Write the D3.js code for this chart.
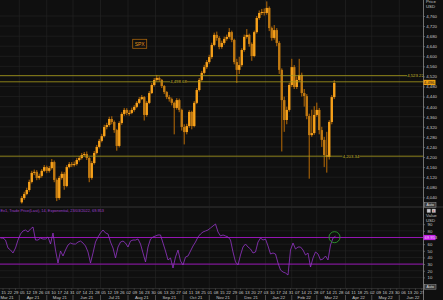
<!DOCTYPE html>
<html>
<head>
<meta charset="utf-8">
<style>
    body { margin: 0; background: #0f0f0f; }
    svg { display: block; font-family: 'Liberation Sans', Arial, sans-serif; }
    .axis text { fill: #c8c8c8; font-size: 4.3px; }
    .axis .domain { stroke: #8a8a8a; stroke-width: 0.8; }
    .axis .tick line { stroke: #8a8a8a; stroke-width: 0.6; }
</style>
</head>
<body>
<svg width="443" height="300"></svg>
<script src="https://d3js.org/d3.v7.min.js"></script>
<script>

// ---- data ----
// SPX bars, one every 2 weekdays from 5 Apr 2021
const firstBar = "2021-04-05";
const barStep = 2;
const spxClose = [4037, 4053, 4069, 4101, 4137, 4141, 4117, 4125, 4145, 4160,
    4145, 4156, 4180, 4109, 4037, 4117, 4133, 4085, 4160, 4172,
    4168, 4172, 4188, 4196, 4208, 4212, 4196, 4117, 4176, 4216,
    4240, 4264, 4283, 4319, 4327, 4351, 4339, 4307, 4244, 4335,
    4371, 4387, 4375, 4375, 4387, 4399, 4415, 4430, 4438, 4367,
    4415, 4454, 4486, 4506, 4514, 4506, 4482, 4458, 4438, 4430,
    4415, 4395, 4426, 4387, 4319, 4299, 4323, 4379, 4323, 4415,
    4466, 4506, 4534, 4557, 4577, 4597, 4645, 4685, 4673, 4637,
    4653, 4669, 4677, 4696, 4665, 4577, 4546, 4565, 4625, 4677,
    4685, 4649, 4601, 4696, 4752, 4772, 4776, 4772, 4792, 4712,
    4673, 4704, 4653, 4546, 4426, 4347, 4387, 4486, 4557, 4478,
    4506, 4526, 4454, 4442, 4363, 4287, 4295, 4367, 4387, 4307,
    4268, 4208, 4200, 4339, 4438, 4494];
const spxHigh = [4045, 4062, 4078, 4110, 4145, 4150, 4148, 4134, 4152, 4168,
    4166, 4164, 4192, 4186, 4115, 4125, 4142, 4140, 4168, 4180,
    4180, 4182, 4196, 4204, 4216, 4220, 4222, 4200, 4184, 4224,
    4248, 4272, 4292, 4328, 4336, 4360, 4362, 4345, 4312, 4342,
    4378, 4395, 4394, 4386, 4396, 4406, 4422, 4438, 4446, 4442,
    4422, 4462, 4494, 4514, 4526, 4520, 4510, 4486, 4462, 4446,
    4436, 4420, 4434, 4432, 4392, 4330, 4332, 4386, 4384, 4422,
    4474, 4514, 4542, 4566, 4585, 4606, 4654, 4694, 4698, 4680,
    4662, 4678, 4686, 4712, 4702, 4670, 4590, 4598, 4632, 4686,
    4708, 4690, 4655, 4702, 4760, 4782, 4788, 4790, 4818, 4798,
    4718, 4724, 4712, 4660, 4552, 4440, 4400, 4495, 4590, 4565,
    4520, 4590, 4535, 4470, 4450, 4372, 4388, 4402, 4416, 4395,
    4320, 4280, 4300, 4346, 4446, 4505];
const spxLow = [4015, 4030, 4048, 4062, 4095, 4128, 4108, 4110, 4118, 4140,
    4136, 4138, 4150, 4100, 4025, 4030, 4110, 4070, 4080, 4155,
    4160, 4162, 4166, 4182, 4190, 4202, 4188, 4100, 4110, 4170,
    4210, 4234, 4258, 4278, 4310, 4320, 4330, 4296, 4225, 4238,
    4328, 4364, 4366, 4364, 4370, 4380, 4394, 4410, 4426, 4345,
    4360, 4410, 4450, 4480, 4500, 4498, 4474, 4450, 4430, 4420,
    4405, 4290, 4388, 4378, 4305, 4250, 4290, 4316, 4310, 4318,
    4410, 4460, 4500, 4528, 4550, 4570, 4590, 4640, 4662, 4628,
    4630, 4646, 4662, 4670, 4656, 4568, 4494, 4530, 4558, 4618,
    4670, 4638, 4582, 4596, 4690, 4745, 4764, 4762, 4765, 4700,
    4662, 4666, 4640, 4530, 4222, 4300, 4330, 4380, 4478, 4470,
    4470, 4500, 4440, 4400, 4350, 4114, 4280, 4288, 4360, 4290,
    4240, 4160, 4138, 4190, 4330, 4430];
const spxFirstOpen = 4020;

// RSI(14), one value every 2 weekdays from 11 Mar 2021
const firstRsi = "2021-03-11";
const rsi = [69.2, 69.2, 66.2, 54.2, 51.2, 46.7, 54.2, 66.2, 75.3, 79.8,
    81.3, 78.3, 82.8, 85.8, 66.2, 66.2, 69.2, 67.7, 67.7, 70.8,
    60.2, 76.8, 51.2, 31.6, 49.7, 42.2, 51.2, 58.7, 61.7, 60.2,
    60.2, 63.2, 64.7, 61.7, 57.2, 48.2, 31.6, 46.7, 63.2, 70.8,
    76.8, 81.3, 76.8, 75.3, 63.2, 54.2, 39.2, 55.7, 63.2, 64.7,
    61.7, 55.7, 64.7, 66.2, 66.2, 67.7, 60.2, 46.7, 33.2, 55.7,
    67.7, 70.8, 72.3, 73.8, 73.8, 61.7, 49.7, 36.2, 39.2, 24.1,
    40.7, 51.2, 34.7, 28.6, 40.7, 42.2, 49.7, 57.2, 63.2, 70.8,
    75.3, 78.3, 79.8, 81.3, 84.3, 87.3, 90.3, 78.3, 72.3, 73.8,
    72.3, 70.8, 66.2, 48.2, 33.2, 28.6, 43.7, 55.7, 60.2, 55.7,
    52.7, 46.7, 48.2, 63.2, 69.2, 66.2, 67.7, 57.2, 45.2, 46.7,
    45.2, 31.6, 21.1, 18.1, 16.6, 13.6, 51.2, 61.7, 52.7, 55.7,
    55.7, 51.2, 43.7, 46.7, 25.6, 39.2, 48.2, 45.2, 36.2, 37.7,
    42.2, 36.2, 58.7, 69.2, 72.0];

// levels and labels
const levelValues = [4523.22, 4498.68, 4203.34];
const levelLabels = ["4,523.22", "4,498.68", "4,203.34"];
const lastPrice = 4496.15;
const lastPriceLabel = "4,496.15";
const rsiLevels = [70, 30];
const lastRsiLabel = "69.953";
const rsiLegend = "Ex1, Trade Price(Last),  14, Exponential,  23/03/2022, 69.953";

const priceTicks = [4040, 4080, 4120, 4160, 4200, 4240, 4280, 4320, 4360, 4400,
    4440, 4480, 4520, 4560, 4600, 4640, 4680, 4720, 4760];
const rsiTicks = [10, 20, 30, 40, 50, 60, 80, 90];
const months = ["2021-03", "2021-04", "2021-05", "2021-06", "2021-07", "2021-08",
    "2021-09", "2021-10", "2021-11", "2021-12", "2022-01", "2022-02", "2022-03",
    "2022-04", "2022-05", "2022-06", "2022-07"];
const monthLabels = ["Mar 21", "Apr 21", "May 21", "Jun 21", "Jul 21", "Aug 21",
    "Sep 21", "Oct 21", "Nov 21", "Dec 21", "Jan 22", "Feb 22", "Mar 22",
    "Apr 22", "May 22", "Jun 22"];

// ---- helpers ----
// x axis counts weekdays (no weekends), origin Mon 15 Mar 2021
const origin = Date.UTC(2021, 2, 15);
function wdIndex(str) {
    let p = str.split("-").map(Number);
    let t = Date.UTC(p[0], p[1] - 1, p[2] || 1);
    let days = Math.round((t - origin) / 864e5);
    let weeks = Math.floor(days / 7);
    let rem = days - weeks * 7;
    return weeks * 5 + Math.min(rem, 5);
}

const axisX = 423.5;
const x = d3.scaleLinear().domain([0, 336]).range([3, 423]);
const y = d3.scaleLinear().domain([4040, 4760]).range([197.3, 16]);
const yr = d3.scaleLinear().domain([30, 70]).range([264.1, 237.5]);

const svg = d3.select("svg");
svg.append("rect").attr("width", 443).attr("height", 300).attr("fill", "#0f0f0f");

let defs = svg.append("defs");
defs.append("clipPath").attr("id", "clipTop")
    .append("rect").attr("x", 0).attr("y", 0).attr("width", axisX).attr("height", 206.5);
defs.append("clipPath").attr("id", "clipBot")
    .append("rect").attr("x", 0).attr("y", 207.5).attr("width", axisX).attr("height", 80.5);
defs.append("clipPath").attr("id", "clipAxis")
    .append("rect").attr("x", 0).attr("y", 288).attr("width", axisX).attr("height", 12);

// month starts in weekday units
const monthIdx = months.map(wdIndex);

// ---- grid ----
let grid = svg.append("g").attr("stroke", "#252525").attr("stroke-width", 0.6);
monthIdx.forEach(function (m) {
    grid.append("line").attr("x1", x(m)).attr("x2", x(m))
        .attr("y1", 0).attr("y2", 206.5).attr("clip-path", "url(#clipTop)");
    grid.append("line").attr("x1", x(m)).attr("x2", x(m))
        .attr("y1", 207.5).attr("y2", 288).attr("clip-path", "url(#clipBot)");
});
priceTicks.forEach(function (t) {
    grid.append("line").attr("x1", 0).attr("x2", axisX).attr("y1", y(t)).attr("y2", y(t));
});
rsiTicks.concat([70]).forEach(function (t) {
    grid.append("line").attr("x1", 0).attr("x2", axisX).attr("y1", yr(t)).attr("y2", yr(t));
});

// ---- price panel ----
let priceG = svg.append("g").attr("clip-path", "url(#clipTop)");
let b0 = wdIndex(firstBar);
let bars = spxClose.map(function (c, i) {
    return {
        idx: b0 + barStep * i,
        open: i === 0 ? spxFirstOpen : spxClose[i - 1],
        close: c, high: spxHigh[i], low: spxLow[i]
    };
});

priceG.selectAll(".wick").data(bars).join("rect")
    .attr("class", "wick")
    .attr("x", d => x(d.idx) - 0.6)
    .attr("width", 1.2)
    .attr("y", d => y(d.high))
    .attr("height", d => y(d.low) - y(d.high))
    .attr("fill", "#9c5c08");

priceG.selectAll(".body").data(bars).join("rect")
    .attr("class", "body")
    .attr("x", d => x(d.idx) - 1.2)
    .attr("width", 2.4)
    .attr("y", d => y(Math.max(d.open, d.close)))
    .attr("height", d => Math.max(1, Math.abs(y(d.open) - y(d.close))))
    .attr("fill", d => d.close >= d.open ? "#f7a11a" : "#c27a12");

// level lines
levelValues.forEach(function (v, i) {
    priceG.append("line").attr("x1", 0).attr("x2", axisX)
        .attr("y1", y(v)).attr("y2", y(v))
        .attr("stroke", "#a89c1c").attr("stroke-width", 0.8);
});
let levelLabelX = [415.5, 178.5, 351];
levelLabels.forEach(function (t, i) {
    let g = priceG.append("g").attr("transform", `translate(${levelLabelX[i]},${y(levelValues[i])})`);
    g.append("rect").attr("x", -8.5).attr("y", -2.5).attr("width", 17).attr("height", 5)
        .attr("fill", "#0f0f0f");
    g.append("text").text(t).attr("text-anchor", "middle").attr("dy", "0.35em")
        .attr("fill", "#c9bb2a").attr("font-size", "4.3px");
});

// SPX tag
priceG.append("rect").attr("x", 132.7).attr("y", 39.3).attr("width", 14).attr("height", 9)
    .attr("fill", "none").attr("stroke", "#a8640c").attr("stroke-width", 0.8);
priceG.append("text").text("SPX").attr("x", 139.7).attr("y", 45.6)
    .attr("text-anchor", "middle").attr("fill", "#e0901a").attr("font-size", "5px");

// ---- rsi panel ----
let rsiG = svg.append("g").attr("clip-path", "url(#clipBot)");
rsiLevels.forEach(function (v) {
    rsiG.append("line").attr("x1", 0).attr("x2", axisX)
        .attr("y1", yr(v)).attr("y2", yr(v))
        .attr("stroke", "#a314c4").attr("stroke-width", 0.9);
});
let r0 = wdIndex(firstRsi);
let rsiLine = d3.line()
    .x((d, i) => x(r0 + barStep * i))
    .y(d => yr(d));
rsiG.append("path").attr("d", rsiLine(rsi))
    .attr("fill", "none").attr("stroke", "#9636c8").attr("stroke-width", 0.8);

let lastI = rsi.length - 1;
rsiG.append("circle").attr("cx", x(r0 + barStep * lastI) - 1).attr("cy", yr(rsi[lastI]) + 1)
    .attr("r", 5.5).attr("fill", "none").attr("stroke", "#2e9a2e").attr("stroke-width", 0.9);

rsiG.append("text").text(rsiLegend).attr("x", 0.5).attr("y", 212.3)
    .attr("fill", "#a040d0").attr("font-size", "3.9px");

// panel separators
svg.append("line").attr("x1", 0).attr("x2", 443).attr("y1", 207).attr("y2", 207)
    .attr("stroke", "#3c3c3c").attr("stroke-width", 0.8);
svg.append("line").attr("x1", 0).attr("x2", axisX).attr("y1", 288.5).attr("y2", 288.5)
    .attr("stroke", "#3c3c3c").attr("stroke-width", 0.6);

// ---- right axes ----
let yAxis = svg.append("g").attr("class", "axis")
    .attr("transform", `translate(${axisX},0)`)
    .call(d3.axisRight(y).tickValues(priceTicks).tickSize(1.5).tickPadding(1.2)
        .tickFormat(d3.format(",")));
yAxis.select(".domain").remove();

let rAxis = svg.append("g").attr("class", "axis")
    .attr("transform", `translate(${axisX},0)`)
    .call(d3.axisRight(yr).tickValues(rsiTicks).tickSize(1.5).tickPadding(2.5));
rAxis.select(".domain").remove();

svg.append("line").attr("x1", axisX).attr("x2", axisX).attr("y1", 0).attr("y2", 300)
    .attr("stroke", "#8a8a8a").attr("stroke-width", 0.8);

let side = svg.append("g").attr("fill", "#c8c8c8").attr("font-size", "4.3px");
side.append("text").text("Price").attr("x", 426).attr("y", 3.4);
side.append("text").text("USD").attr("x", 426).attr("y", 7.9);
side.append("text").text("Value").attr("x", 426).attr("y", 217.3);
side.append("text").text("USD").attr("x", 426).attr("y", 222);

// last price tag
let lp = svg.append("g").attr("transform", `translate(${axisX},${y(lastPrice)})`);
lp.append("rect").attr("x", 0).attr("y", -2.6).attr("width", 12).attr("height", 5.2).attr("fill", "#f0a010");
lp.append("text").text(lastPriceLabel).attr("x", 0.6).attr("dy", "0.35em")
    .attr("fill", "#1a1a1a").attr("font-size", "4.1px");

// last rsi tag
let lr = svg.append("g").attr("transform", `translate(${axisX},${yr(70)})`);
lr.append("rect").attr("x", 0).attr("y", -2.6).attr("width", 12).attr("height", 5.2).attr("fill", "#c61ee6");
lr.append("text").text(lastRsiLabel).attr("x", 1).attr("dy", "0.35em")
    .attr("fill", "#f0d8f8").attr("font-size", "4.1px");

// buttons
function button(yTop, label) {
    svg.append("rect").attr("x", 424.5).attr("y", yTop).attr("width", 11.5).attr("height", 4.6)
        .attr("fill", "#3a3a3a").attr("stroke", "#9a9a9a").attr("stroke-width", 0.5);
    svg.append("text").text(label).attr("x", 430.2).attr("y", yTop + 3.5)
        .attr("text-anchor", "middle").attr("fill", "#e0e0e0").attr("font-size", "3.6px");
}
button(202.6, "Auto");
button(284.6, "Auto");
svg.append("rect").attr("x", 427).attr("y", 209).attr("width", 3.6).attr("height", 3.6)
    .attr("fill", "#c8c8d0").attr("stroke", "#777").attr("stroke-width", 0.4);
svg.append("rect").attr("x", 432).attr("y", 209).attr("width", 3.6).attr("height", 3.6)
    .attr("fill", "#d8d8d8").attr("stroke", "#777").attr("stroke-width", 0.4);
svg.append("text").text("x").attr("x", 433.8).attr("y", 212.2).attr("text-anchor", "middle")
    .attr("fill", "#b02020").attr("font-size", "3.8px");

// ---- bottom time axis ----
let xa = svg.append("g").attr("clip-path", "url(#clipAxis)")
    .attr("fill", "#c8c8c8").attr("font-size", "4.3px");

// weekly Monday labels
let mondays = d3.utcMonday.range(new Date(Date.UTC(2021, 2, 15)), new Date(Date.UTC(2022, 6, 1)));
mondays.forEach(function (d) {
    let idx = wdIndex(d3.utcFormat("%Y-%m-%d")(d));
    xa.append("line").attr("x1", x(idx)).attr("x2", x(idx)).attr("y1", 288.5).attr("y2", 290)
        .attr("stroke", "#777").attr("stroke-width", 0.4);
    xa.append("text").text(d3.utcFormat("%d")(d)).attr("x", Math.max(2.4, x(idx) + 0.6))
        .attr("y", 294.2).attr("text-anchor", "middle");
});

// month labels and separators
monthLabels.forEach(function (t, i) {
    let a = monthIdx[i], b = monthIdx[i + 1];
    let cx = (x(a) + x(b)) / 2;
    xa.append("line").attr("x1", x(a)).attr("x2", x(a)).attr("y1", 295).attr("y2", 300)
        .attr("stroke", "#8a8a8a").attr("stroke-width", 0.5);
    xa.append("text").text(t)
        .attr("x", i === 0 ? 0.4 : cx)
        .attr("y", 299.4)
        .attr("text-anchor", i === 0 ? "start" : "middle");
});

</script>
</body>
</html>
